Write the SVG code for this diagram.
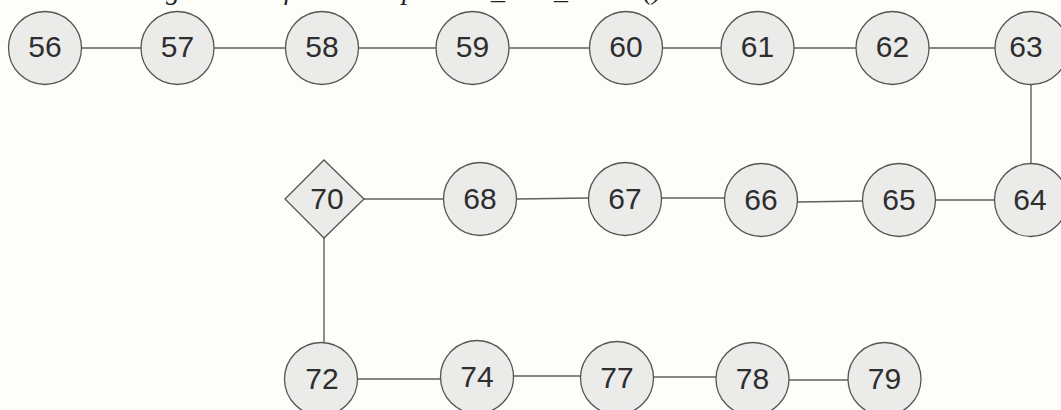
<svg xmlns="http://www.w3.org/2000/svg" width="1061" height="410" viewBox="0 0 1061 410">
<style>
.n{fill:#ebebea;stroke:#555;stroke-width:1.3}
.t{font-family:"Liberation Sans",Arial,sans-serif;font-size:30px;fill:#2e2e2e;text-anchor:middle}
.c line{stroke:#5e5e5e;stroke-width:1.4}
.cap{font-family:"Liberation Serif","Times New Roman",serif;font-style:italic;font-size:28px;fill:#222}
</style>
<rect width="1061" height="410" fill="#fdfdfa"/>
<text class="cap" y="-1"><tspan x="166">g</tspan><tspan x="284">f</tspan><tspan x="402">p</tspan><tspan x="491">_</tspan><tspan x="554">_</tspan><tspan x="643">()</tspan></text>
<g class="c" id="connectors">
<line x1="82" y1="48" x2="141" y2="48"/>
<line x1="214" y1="48" x2="285" y2="48"/>
<line x1="359" y1="48" x2="436" y2="48"/>
<line x1="509" y1="48" x2="590" y2="48"/>
<line x1="662" y1="48" x2="721" y2="48"/>
<line x1="794" y1="48" x2="856" y2="48"/>
<line x1="929" y1="48" x2="995" y2="48"/>
<line x1="1031" y1="85" x2="1031" y2="163"/>
<line x1="995" y1="200" x2="935" y2="200"/>
<line x1="862" y1="201" x2="798" y2="202"/>
<line x1="724" y1="198" x2="662" y2="198"/>
<line x1="589" y1="198" x2="517" y2="199"/>
<line x1="443" y1="199" x2="364" y2="199"/>
<line x1="324" y1="238" x2="324" y2="342"/>
<line x1="358" y1="379" x2="440" y2="379"/>
<line x1="514" y1="376" x2="585" y2="376"/>
<line x1="654" y1="377" x2="716" y2="377"/>
<line x1="789" y1="380" x2="848" y2="380"/>
</g>
<g id="n56"><circle class="n" cx="45" cy="48" r="36.5"/><text class="t" x="45" y="57">56</text></g>
<g id="n57"><circle class="n" cx="177.5" cy="48" r="36.5"/><text class="t" x="177.5" y="57">57</text></g>
<g id="n58"><circle class="n" cx="322" cy="48" r="36.5"/><text class="t" x="322" y="57">58</text></g>
<g id="n59"><circle class="n" cx="472.5" cy="48" r="36.5"/><text class="t" x="472.5" y="57">59</text></g>
<g id="n60"><circle class="n" cx="626" cy="48" r="36.5"/><text class="t" x="626" y="57">60</text></g>
<g id="n61"><circle class="n" cx="757.5" cy="48" r="36.5"/><text class="t" x="757.5" y="57">61</text></g>
<g id="n62"><circle class="n" cx="892.5" cy="48" r="36.5"/><text class="t" x="892.5" y="57">62</text></g>
<g id="n63"><circle class="n" cx="1031.5" cy="48" r="36.5"/><text class="t" x="1026" y="57">63</text></g>
<g id="n64"><circle class="n" cx="1031" cy="200" r="36.5"/><text class="t" x="1030" y="210">64</text></g>
<g id="n65"><circle class="n" cx="899" cy="200" r="36.5"/><text class="t" x="899" y="210">65</text></g>
<g id="n66"><circle class="n" cx="761" cy="200" r="36.5"/><text class="t" x="761" y="210">66</text></g>
<g id="n67"><circle class="n" cx="625" cy="199" r="36.5"/><text class="t" x="625" y="209">67</text></g>
<g id="n68"><circle class="n" cx="480" cy="199" r="36.5"/><text class="t" x="480" y="209">68</text></g>
<g id="n70"><polygon class="n" points="324,160 364,199 324,238 285,199"/><text class="t" x="327" y="209">70</text></g>
<g id="n72"><circle class="n" cx="321" cy="379" r="36.5"/><text class="t" x="322" y="389">72</text></g>
<g id="n74"><circle class="n" cx="477" cy="377" r="36.5"/><text class="t" x="477" y="387">74</text></g>
<g id="n77"><circle class="n" cx="617" cy="378" r="36.5"/><text class="t" x="617" y="388">77</text></g>
<g id="n78"><circle class="n" cx="752.5" cy="379" r="36.5"/><text class="t" x="752.5" y="389">78</text></g>
<g id="n79"><circle class="n" cx="884.5" cy="379" r="36.5"/><text class="t" x="884.5" y="389">79</text></g>
</svg>
